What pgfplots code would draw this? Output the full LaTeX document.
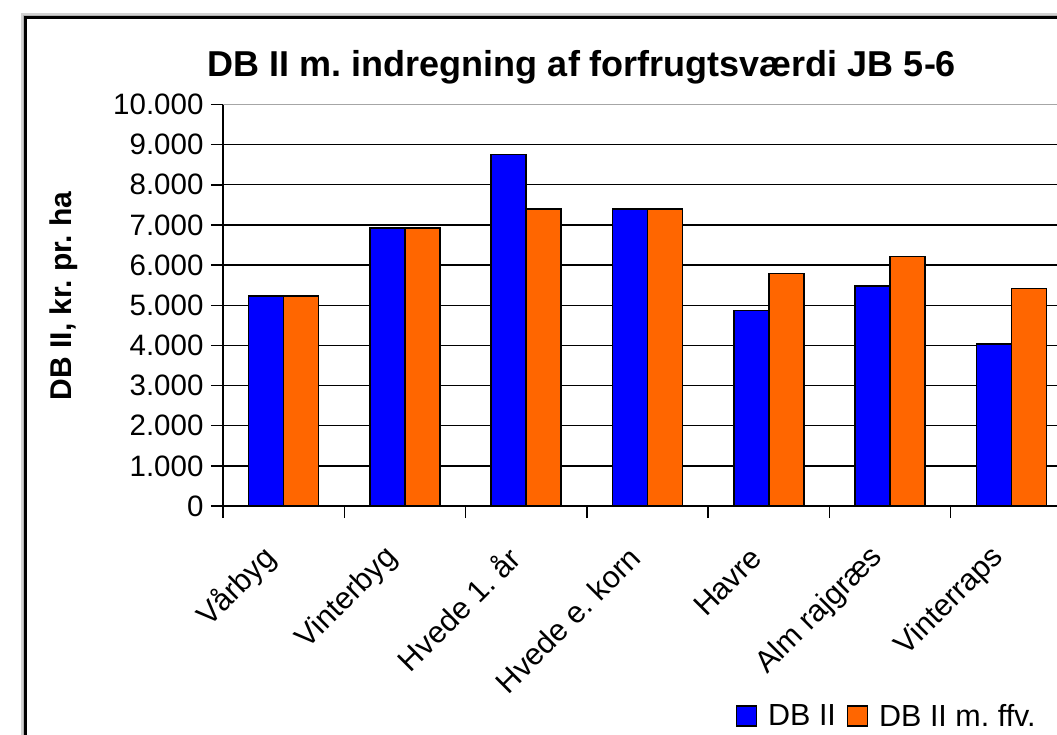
\documentclass[border=0pt]{standalone}
\usepackage{pgfplots}
\pgfplotsset{compat=1.18}
\usepackage{fontspec}
\setmainfont{Liberation Sans}
\definecolor{dbblue}{RGB}{0,0,255}
\definecolor{dborange}{RGB}{255,102,0}
\frenchspacing
\begin{document}
\begin{tikzpicture}[x=1pt,y=1pt]
\path[use as bounding box] (0,0) rectangle (1057,734);
\clip (0,0) rectangle (1057,734);
\fill[white] (0,0) rectangle (1057,734);
% frame with shadow
\draw[gray!35,line width=9pt] (25,-20) -- (25,716) -- (1100,716);
\draw[gray!60,line width=5pt] (25,-20) -- (25,716) -- (1100,716);
\fill[white] (26.5,-20) rectangle (1100,714.5);
\draw[black,line width=3pt] (25,-20) -- (25,716) -- (1100,716);
% title
\node[font=\fontsize{36}{40}\selectfont\bfseries] at (582,667) {DB II m. indregning af forfrugtsværdi JB 5-6};
% y label
\node[font=\fontsize{30}{34}\selectfont\bfseries,rotate=90] at (64,438) {DB II, kr. pr. ha};
\begin{axis}[
  at={(223pt,228pt)}, anchor=south west,
  scale only axis, width=849pt, height=401.5pt,
  xmin=-0.5, xmax=6.5, ymin=0, ymax=10000,
  axis x line*=bottom, axis y line*=left,
  axis line style={black,line width=1.5pt},
  ytick={0,1000,...,10000},
  scaled y ticks=false,
  ymajorgrids, grid style={black,line width=1.3pt},
  tick align=outside,
  major tick length=12pt, minor tick length=12pt,
  tick style={black,line width=1.5pt},
  xtick={0,1,2,3,4,5,6},
  xticklabels={Vårbyg,Vinterbyg,Hvede 1. år,Hvede e. korn,Havre,Alm rajgræs,Vinterraps},
  major x tick style={draw=none},
  minor xtick={-0.5,0.5,...,6.5},
  xticklabel style={rotate=45,anchor=east,xshift=-30pt,yshift=-16pt,font=\fontsize{30.5}{34}\selectfont},
  yticklabel style={font=\fontsize{29.5}{34}\selectfont,xshift=-4pt},
  yticklabel={\pgfmathprintnumber[fixed,precision=0,1000 sep={.},assume math mode=true]{\tick}},
  ybar=0pt, bar width=35pt,
  legend style={at={(0.604,-0.523)},anchor=west,draw=none,fill=none,
    legend columns=2,font=\fontsize{30.5}{34}\selectfont,
    /tikz/every odd column/.append style={column sep=9pt},
    /tikz/every even column/.append style={column sep=9pt},
    inner sep=0pt},
  legend image code/.code={\draw[#1,line width=1.2pt,draw=black] (0pt,-10pt) rectangle (20pt,10pt);},
  clip=false,
]
\addplot[fill=dbblue,draw=black,line width=1.5pt] coordinates {(0,5230) (1,6930) (2,8750) (3,7400) (4,4865) (5,5480) (6,4035)};
\addplot[fill=dborange,draw=black,line width=1.5pt] coordinates {(0,5230) (1,6930) (2,7400) (3,7400) (4,5795) (5,6210) (6,5422)};
\legend{DB II,DB II m. ffv.}
\draw[gray!70,line width=1.5pt] (axis cs:-0.5,10000) -- (axis cs:6.5,10000);
\end{axis}
\end{tikzpicture}
\end{document}
